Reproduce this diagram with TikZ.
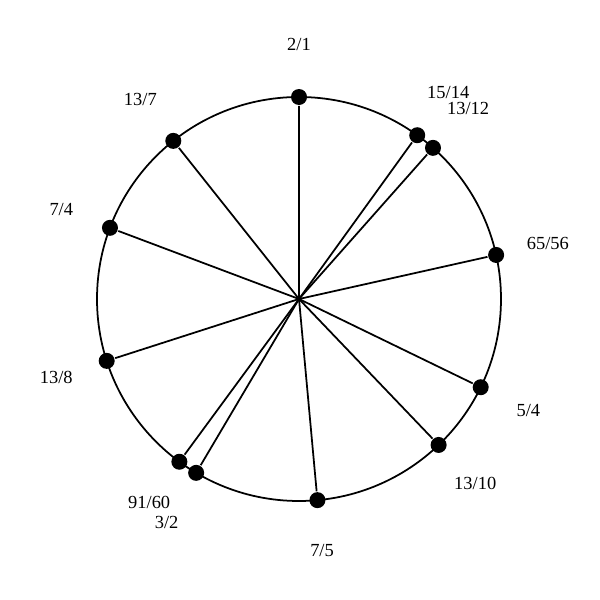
\documentclass[tikz,border=0pt]{standalone}
\usepackage{fontspec}
\setmainfont{Liberation Serif}
\usepackage{tikz}
\usetikzlibrary{calc}

\tikzset{
  dot/.style={circle,fill=black,inner sep=0pt,minimum size=0.32cm},
  ratio/.style={font=\fontsize{10.5}{12}\selectfont,inner sep=0pt,text depth=0pt}
}

\begin{document}
\begin{tikzpicture}[line width=1pt]

 \useasboundingbox (0,0) rectangle (12,12);
 \coordinate (c) at (5.98,6.02);
 \draw (c) circle (4.04); % pitch circle

 % one spoke per ratio, angle from log2 of the ratio
 \foreach \num/\den/\nm/\lr in {2/1/a/5.1,15/14/b/5.1,13/12/c1/5.1,65/56/d/5.1,5/4/e/5.1,13/10/f/5.1,7/5/g/5.05,3/2/h/5.2,91/60/i/5.06,13/8/j/5.1,7/4/k/5.08,13/7/l/5.1}{
  \pgfmathsetmacro{\ang}{90-360*ln(\num/\den)/ln(2)}
  \node[dot] (p\nm) at ($(c)+(\ang:4.04)$) {};
  \node[ratio] (t\nm) at ($(c)+(\ang:\lr)$) {\num/\den};
  \draw (c) -- (p\nm);
 }

\end{tikzpicture}
\end{document}
